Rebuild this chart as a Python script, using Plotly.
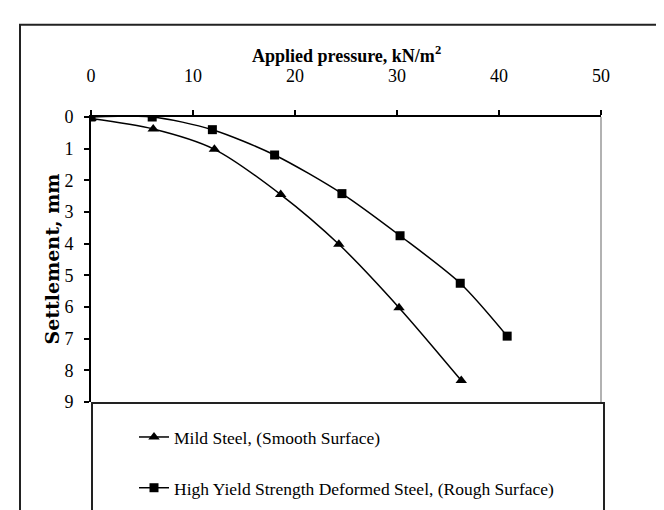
import plotly.graph_objects as go

# Data
mild_x = [0, 6.1, 12.1, 18.6, 24.3, 30.2, 36.3]
mild_y = [0.05, 0.38, 1.02, 2.45, 4.02, 6.02, 8.32]
hys_x = [0, 6.0, 11.9, 18.0, 24.6, 30.3, 36.2, 40.8]
hys_y = [0, 0, 0.4, 1.2, 2.42, 3.75, 5.25, 6.92]
x_ticks = [0, 10, 20, 30, 40, 50]
y_ticks = [0, 1, 2, 3, 4, 5, 6, 7, 8, 9]
names = ["Mild Steel, (Smooth Surface)",
         "High Yield Strength Deformed Steel, (Rough Surface)"]

FONT = "'Liberation Serif', 'Times New Roman', serif"

fig = go.Figure()
fig.add_trace(go.Scatter(
    x=mild_x, y=mild_y, name=names[0], mode="lines+markers",
    line=dict(color="black", width=1.5, shape="spline", smoothing=0.8),
    marker=dict(symbol="triangle-up", size=10, color="black"),
    legendgroup="a"))
fig.add_trace(go.Scatter(
    x=hys_x, y=hys_y, name=names[1], mode="lines+markers",
    line=dict(color="black", width=1.5, shape="spline", smoothing=0.8),
    marker=dict(symbol="square", size=9, color="black"),
    legendgroup="b"))

W, H = 664, 510
L, R, T, B = 83, 71, 109, 101
pw, ph = W - L - R, H - T - B

def px(xp):
    return (xp - L) / pw

def py(yp):
    return 1 - (yp - T) / ph

fig.update_layout(
    width=W, height=H,
    margin=dict(l=L, r=R, t=T, b=B),
    paper_bgcolor="white", plot_bgcolor="white",
    font=dict(family=FONT, size=16, color="black"),
    showlegend=True,
    legend=dict(x=px(126), y=py(427), xanchor="left", yanchor="top",
                bgcolor="rgba(0,0,0,0)", borderwidth=0,
                font=dict(family=FONT, size=17.5, color="black"),
                tracegroupgap=25, itemwidth=30),
    xaxis=dict(side="top", range=[0, 50], tickvals=x_ticks,
               ticks="outside", ticklen=5, tickwidth=1.5, tickcolor="black",
               showline=True, linecolor="black", linewidth=2,
               showgrid=False, zeroline=False, ticklabelstandoff=21,
               tickfont=dict(family=FONT, size=18)),
    yaxis=dict(range=[9, 0], tickvals=y_ticks,
               ticks="outside", ticklen=5, tickwidth=1.5, tickcolor="black",
               showline=True, linecolor="black", linewidth=2,
               showgrid=False, zeroline=False, ticklabelstandoff=7,
               tickfont=dict(family=FONT, size=18)),
)

# outer frame
fig.add_shape(type="rect", xref="paper", yref="paper",
              x0=px(12), x1=px(658), y0=py(530), y1=py(12),
              line=dict(color="#222", width=2), layer="below")
# grey right border of plot area
fig.add_shape(type="line", xref="paper", yref="paper",
              x0=1, x1=1, y0=0, y1=1, line=dict(color="#999", width=1.5))
# legend box
fig.add_shape(type="rect", xref="paper", yref="paper",
              x0=px(84), x1=px(596), y0=py(540), y1=py(410),
              line=dict(color="#222", width=2), fillcolor="white", layer="below")

fig.add_annotation(text="<b>Applied pressure, kN/m<sup>2</sup></b>",
                   xref="paper", yref="paper", x=0.5, y=py(43),
                   xanchor="center", yanchor="middle", showarrow=False,
                   font=dict(family=FONT, size=18, color="black"))
fig.add_annotation(text="<b>Settlement, mm</b>",
                   xref="paper", yref="paper", x=px(43), y=0.5,
                   xanchor="center", yanchor="middle", showarrow=False,
                   textangle=-90,
                   font=dict(family="'DejaVu Serif', serif", size=19, color="black"))

fig.write_html("out.html")
